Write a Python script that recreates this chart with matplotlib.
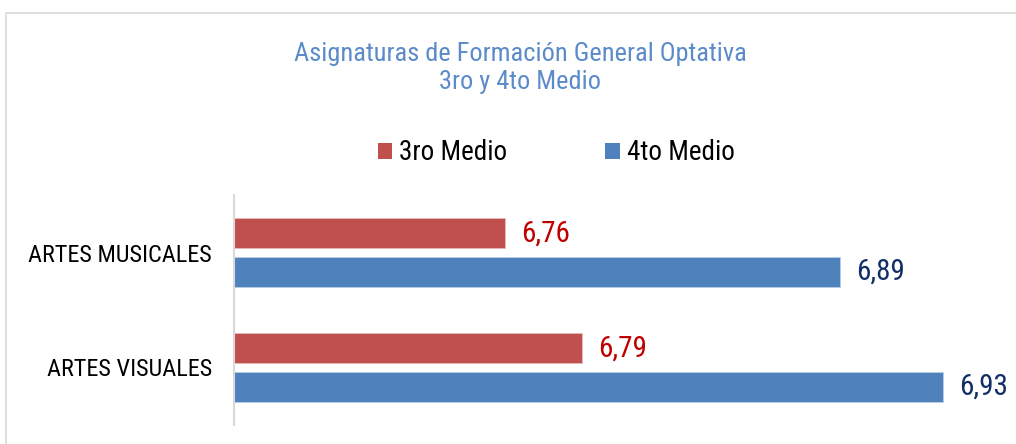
import matplotlib
matplotlib.use("Agg")
import matplotlib.pyplot as plt
from matplotlib.patches import Patch, Rectangle
from matplotlib import font_manager as fm
from matplotlib.textpath import TextPath
import numpy as np

categories = ["ARTES MUSICALES", "ARTES VISUALES"]
series_names = ["3ro Medio", "4to Medio"]
vals_3ro = [6.76, 6.79]
vals_4to = [6.89, 6.93]
labels_3ro = ["6,76", "6,79"]
labels_4to = ["6,89", "6,93"]
title = "Asignaturas de Formación General Optativa\n3ro y 4to Medio"

# ---- font choice: something close to Arial Narrow ----
def is_regular(f):
    n = (f.name + " " + str(f.fname)).lower()
    bad = ["bold", "italic", "oblique", "mono", "light", "thin", "black",
           "medium", "semibold", "extrabold", "heavy", "cjk"]
    return f.style == "normal" and not any(b in n for b in bad) \
        and f.weight in (400, "normal", "regular")

def em_width(fname, s="ARTES MUSICALES"):
    tp = TextPath((0, 0), s, prop=fm.FontProperties(fname=fname, size=100))
    return tp.get_extents().width / 100.0

cands = [f for f in fm.fontManager.ttflist if is_regular(f)]
chosen = None
for pref in ["liberation sans narrow", "arial narrow", "roboto condensed"]:
    for f in cands:
        if f.name.lower() == pref or (pref in (f.name + " " + f.fname).lower()):
            chosen = f.fname
            break
    if chosen:
        break
if chosen is None:
    narrow_c = [f for f in cands if any(k in (f.name + " " + f.fname).lower()
                                         for k in ["narrow", "condensed"])
                and "semicondensed" not in (f.name + f.fname).lower().replace(" ", "")
                and "serif" not in f.name.lower()]
    for fam in ["roboto", "inter", "lato", "noto sans", "open sans", "dejavu sans"]:
        m = [f for f in narrow_c if fam in f.name.lower()]
        if m:
            chosen = m[0].fname
            break
    if chosen is None and narrow_c:
        chosen = narrow_c[0].fname
if chosen is None:
    chosen = fm.findfont(fm.FontProperties(family="Liberation Sans"))

target = 185 / (17.5 * 100 / 72)
w = em_width(chosen)
scale = min(1.0, target / w)

def fp(size):
    return fm.FontProperties(fname=chosen, size=size * scale)

red = "#C0504D"
blue = "#4F81BD"

W, H = 1016, 444
fig = plt.figure(figsize=(W / 100, H / 100), dpi=100)
fig.patch.set_facecolor("white")

fig.patches.append(Rectangle((6 / W, -0.1), 1.2, (1 - 13 / H) + 0.1,
                             transform=fig.transFigure, fill=False,
                             edgecolor="#D9D9D9", linewidth=1.2))

ax_left, ax_right = 234, 1000
ax_top, ax_bottom = 195, 425
ax = fig.add_axes([ax_left / W, 1 - ax_bottom / H,
                   (ax_right - ax_left) / W, (ax_bottom - ax_top) / H])

y = np.arange(len(categories))
bh = 0.26
off = 0.167
xmin = 6.655
px_per_unit = 2578
xmax = xmin + (ax_right - ax_left) / px_per_unit

ax.barh(y - off, vals_3ro, height=bh, left=0, color=red,
        edgecolor="#E8B9B8", linewidth=0.6)
ax.barh(y + off, vals_4to, height=bh, left=0, color=blue,
        edgecolor="#B9CDE5", linewidth=0.6)

ax.set_xlim(xmin, xmax)
ax.set_ylim(1.5, -0.5)

dx = 16 / px_per_unit
for yi, v, t in zip(y, vals_3ro, labels_3ro):
    ax.text(v + dx, yi - off, t, va="center", ha="left", color="#C00000",
            fontproperties=fp(21))
for yi, v, t in zip(y, vals_4to, labels_4to):
    ax.text(v + dx, yi + off, t, va="center", ha="left", color="#112F66",
            fontproperties=fp(21))

ax.set_yticks(y)
ax.set_yticklabels(categories)
for lab in ax.get_yticklabels():
    lab.set_fontproperties(fp(17.5))
ax.tick_params(axis="y", length=0, pad=16, colors="black")
ax.set_xticks([])
for s in ["top", "right", "bottom"]:
    ax.spines[s].set_visible(False)
ax.spines["left"].set_color("#D9D9D9")
ax.spines["left"].set_linewidth(1.5)

fig.text(520 / W, 1 - 68 / H, title, ha="center", va="center",
         color="#5B8BC9", fontproperties=fp(19.0), linespacing=1.25)

handles = [Patch(facecolor=red, edgecolor="none"),
           Patch(facecolor=blue, edgecolor="none")]
fig.legend(handles, series_names, loc="center", bbox_to_anchor=(556 / W, 1 - 153 / H),
           ncol=2, frameon=False, prop=fp(19.5), handlelength=0.55,
           handleheight=0.55, handletextpad=0.25, columnspacing=3.6,
           borderpad=0)

fig.savefig("out.png", dpi=100)
